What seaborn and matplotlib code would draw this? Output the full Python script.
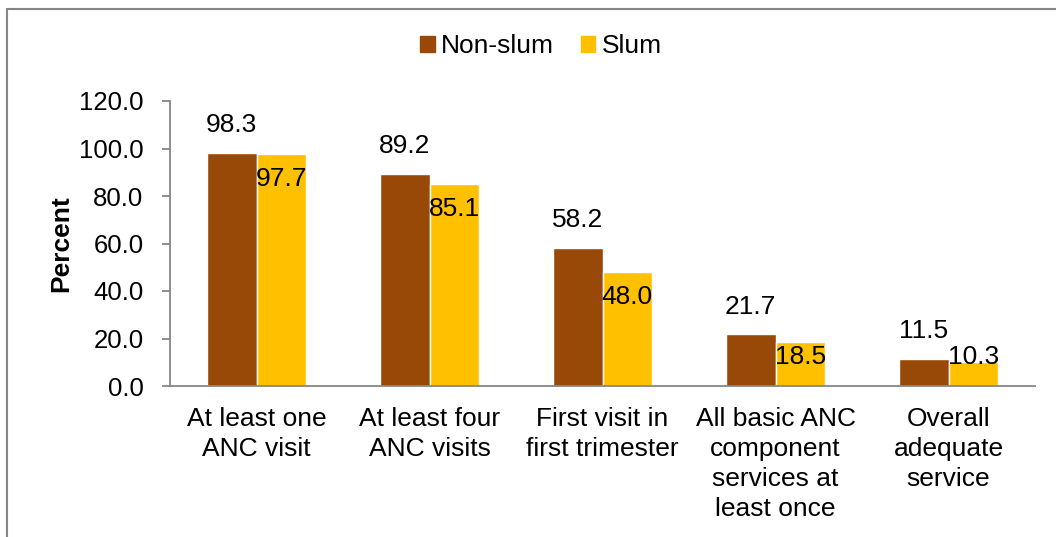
import matplotlib
matplotlib.use("Agg")
import matplotlib.pyplot as plt
import seaborn as sns
import pandas as pd
from matplotlib.lines import Line2D

categories = ["At least one\nANC visit", "At least four\nANC visits", "First visit in\nfirst trimester",
              "All basic ANC\ncomponent\nservices at\nleast once", "Overall\nadequate\nservice"]
non_slum = [98.3, 89.2, 58.2, 21.7, 11.5]
slum = [97.7, 85.1, 48.0, 18.5, 10.3]
series = ["Non-slum", "Slum"]
colors = ["#984807", "#FFC000"]
yticks = [0, 20, 40, 60, 80, 100, 120]

FS = 19

sns.set_theme(style="white")
plt.rcParams["font.family"] = ["Liberation Sans", "DejaVu Sans"]
plt.rcParams["text.color"] = "black"
plt.rcParams["axes.labelcolor"] = "black"
plt.rcParams["xtick.labelcolor"] = "black"
plt.rcParams["ytick.labelcolor"] = "black"

df = pd.DataFrame({
    "Category": categories * 2,
    "Series": [series[0]] * len(categories) + [series[1]] * len(categories),
    "Value": non_slum + slum,
})

fig = plt.figure(figsize=(10.56, 5.37), dpi=100)
ax = fig.add_axes([170 / 1056, 1 - 386 / 537, (1035 - 170) / 1056, (386 - 101) / 537])

sns.barplot(data=df, x="Category", y="Value", hue="Series", palette=colors,
            order=categories, hue_order=series, width=0.572, gap=0, ax=ax,
            saturation=1, legend=False, errorbar=None)

ax.set_xlim(-0.5, len(categories) - 0.5)
ax.set_ylim(0, 120)
ax.set_yticks(yticks)
ax.set_yticklabels([f"{v:.1f}" for v in yticks], fontsize=18.5)
ax.set_xticks(range(len(categories)))
ax.set_xticklabels(categories, fontsize=FS, linespacing=1.31)
ax.set_xticks([i - 0.5 for i in range(len(categories) + 1)], minor=True)
ax.tick_params(axis="x", which="major", length=0, pad=15, labelcolor="black")
ax.tick_params(axis="x", which="minor", length=8, width=1.3, color="#868686", direction="out")
ax.tick_params(axis="y", length=6, width=1.3, color="#868686", direction="out", left=True, pad=13,
               labelcolor="black")
ax.set_xlabel("")
ax.set_ylabel("Percent", fontsize=FS, fontweight="bold", labelpad=4, color="black")
for s in ["top", "right"]:
    ax.spines[s].set_visible(False)
for s in ["left", "bottom"]:
    ax.spines[s].set_color("#868686")
    ax.spines[s].set_linewidth(1.3)

# labels
containers = ax.containers
for bar, v in zip(containers[0], non_slum):
    ax.annotate(f"{v:.1f}", (bar.get_x() + bar.get_width() / 2, bar.get_height()),
                xytext=(0, 20), textcoords="offset points", ha="center", va="center",
                fontsize=FS, color="black")
for bar, v in zip(containers[1], slum):
    ax.text(bar.get_x() + bar.get_width() / 2, max(v - 10.5, 12.0), f"{v:.1f}",
            ha="center", va="center", fontsize=FS, color="black")

handles = [plt.Rectangle((0, 0), 1, 1, color=c) for c in colors]
fig.legend(handles, series, loc="center", bbox_to_anchor=(541 / 1056, 1 - 46 / 537), ncol=2,
           frameon=False, fontsize=FS, handlelength=0.55, handleheight=0.55, handletextpad=0.25,
           columnspacing=1.0, labelcolor="black")

# outer border (top and left visible)
fig.add_artist(Line2D([7 / 1056, 1.0], [1 - 9 / 537, 1 - 9 / 537], transform=fig.transFigure,
                      color="#868686", linewidth=1.5))
fig.add_artist(Line2D([7 / 1056, 7 / 1056], [0, 1 - 9 / 537], transform=fig.transFigure,
                      color="#868686", linewidth=1.5))

fig.savefig("out.png", dpi=100)
